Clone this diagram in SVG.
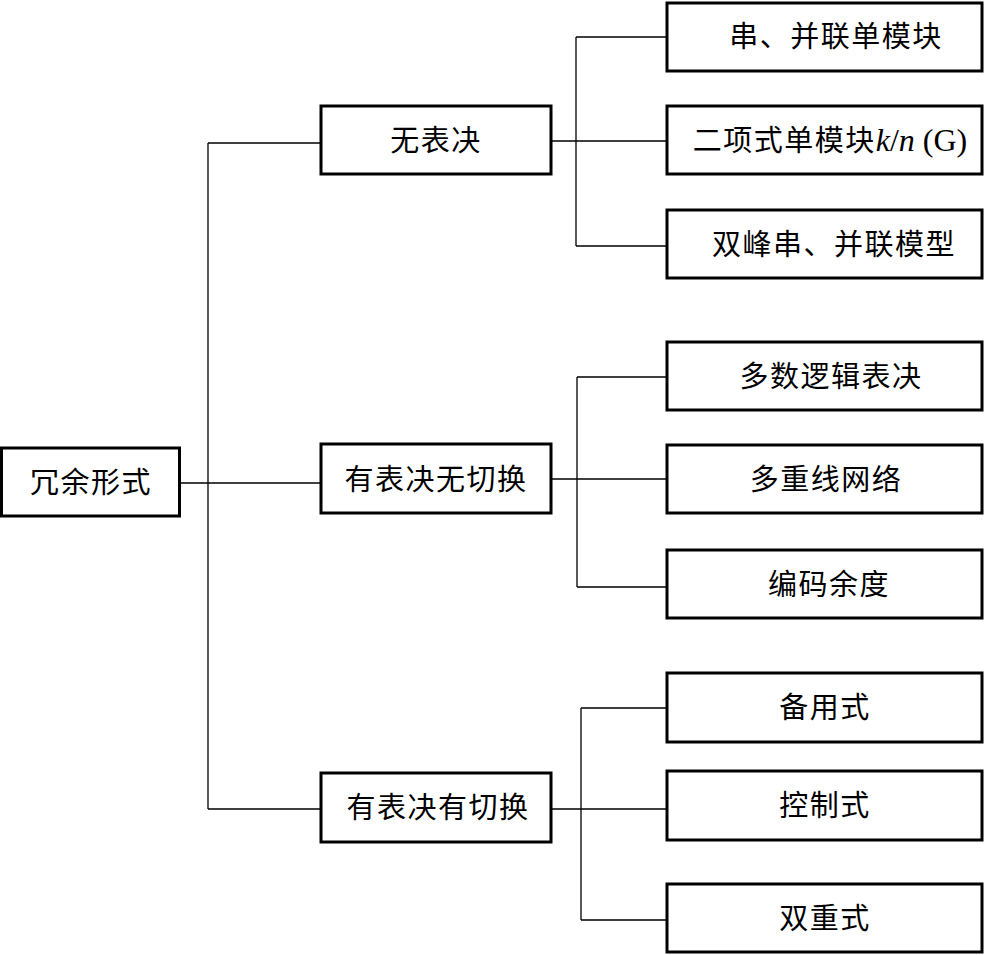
<svg xmlns="http://www.w3.org/2000/svg" width="984" height="955" viewBox="0 0 984 955">
<style>
.box{fill:#fff;stroke:#000;stroke-width:3}
.t{font-family:"Noto Sans CJK SC","Liberation Serif",serif;font-size:29px;letter-spacing:1.5px;fill:#000;text-anchor:middle}
.lat{font-family:"Liberation Serif",serif;font-size:32px;letter-spacing:0}
.c{fill:none;stroke:#000;stroke-width:1.3}
</style>
<rect width="984" height="955" fill="#fff"/>
<g id="connectors">
<path class="c" d="M180 483H321M208 143V809M208 143H321M208 809H321"/>
<path class="c" d="M551 141H666M576 37V246M576 37H666M576 246H666"/>
<path class="c" d="M551 479H666M577 377V587M577 377H666M577 587H666"/>
<path class="c" d="M551 809H666M581 708V920M581 708H666M581 920H666"/>
</g>
<g id="n0"><rect class="box" x="1.5" y="448" width="178" height="68"/><text class="t" x="91" y="493">冗余形式</text></g>
<g id="n1"><rect class="box" x="321" y="106" width="230" height="68"/><text class="t" x="436" y="151">无表决</text></g>
<g id="n2"><rect class="box" x="321" y="444" width="230" height="69"/><text class="t" x="436" y="490">有表决无切换</text></g>
<g id="n3"><rect class="box" x="321" y="773" width="230" height="69"/><text class="t" x="438" y="818">有表决有切换</text></g>
<g id="n11"><rect class="box" x="667" y="3" width="315" height="68"/><text class="t" x="836" y="47">串、并联单模块</text></g>
<g id="n12"><rect class="box" x="667" y="106" width="315" height="68"/><text class="t" x="830" y="151">二项式单模块<tspan class="lat" font-style="italic">k</tspan><tspan class="lat">/</tspan><tspan class="lat" font-style="italic">n</tspan><tspan class="lat"> (G)</tspan></text></g>
<g id="n13"><rect class="box" x="667" y="210" width="315" height="68"/><text class="t" x="834" y="255">双峰串、并联模型</text></g>
<g id="n21"><rect class="box" x="667" y="342" width="315" height="68"/><text class="t" x="831" y="387">多数逻辑表决</text></g>
<g id="n22"><rect class="box" x="667" y="445" width="315" height="68"/><text class="t" x="826" y="490">多重线网络</text></g>
<g id="n23"><rect class="box" x="667" y="550" width="315" height="68"/><text class="t" x="829" y="595">编码余度</text></g>
<g id="n31"><rect class="box" x="667" y="673" width="315" height="69"/><text class="t" x="825" y="718">备用式</text></g>
<g id="n32"><rect class="box" x="667" y="771" width="315" height="69"/><text class="t" x="825" y="816">控制式</text></g>
<g id="n33"><rect class="box" x="667" y="884" width="315" height="68"/><text class="t" x="825" y="929">双重式</text></g>
</svg>
